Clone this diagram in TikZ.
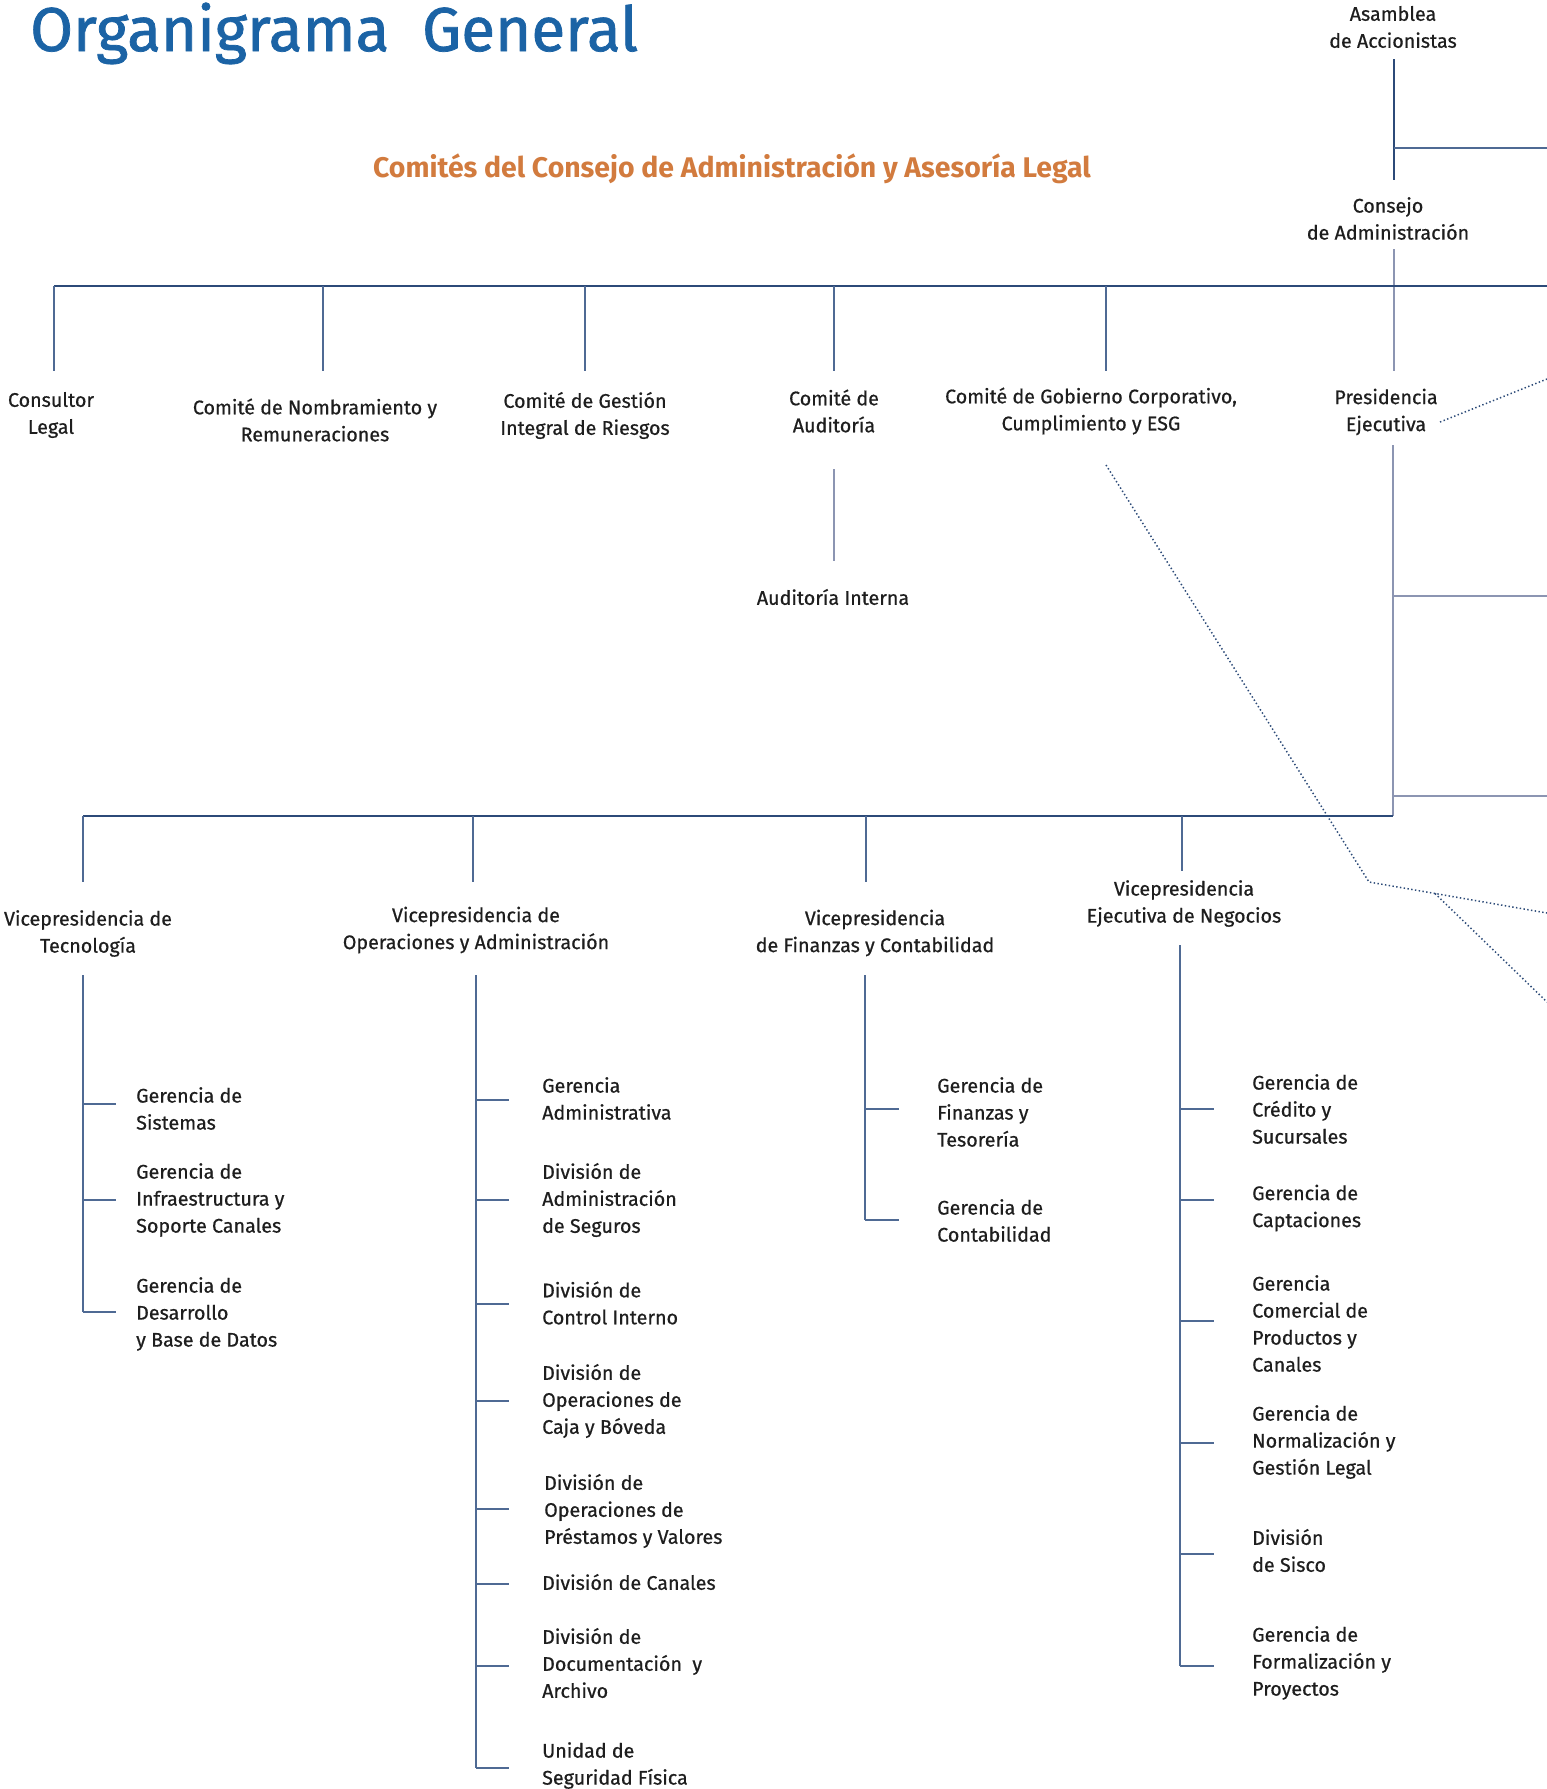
\documentclass[tikz,border=0pt]{standalone}
\usepackage{fontspec}
\setmainfont{Fira Sans}
\newfontfamily\lblfont{Fira Sans}[FakeBold=0.6]
\newfontfamily\ttlfont{Fira Sans}[FakeBold=1.2]
\definecolor{navy}{HTML}{2C4A78}
\definecolor{trunk}{HTML}{4F6A94}
\definecolor{pale}{HTML}{8C95B2}
\definecolor{ttlblue}{HTML}{1B63A5}
\definecolor{orng}{HTML}{D27B3E}
\definecolor{txt}{HTML}{1E1E1E}
\tikzset{
  lbl/.style={font=\lblfont\fontsize{19.7}{27}\selectfont, text=txt, align=center, inner sep=0pt},
  lbll/.style={lbl, align=left, anchor=west},
  mainln/.style={draw=navy, line width=2.4pt},
  subln/.style={draw=trunk, line width=1.4pt},
  paleln/.style={draw=pale, line width=1.6pt},
  dotln/.style={draw=navy, line width=1.5pt, dash pattern=on 1.4pt off 2.4pt}
}
\begin{document}
\begin{tikzpicture}[x=1pt,y=-1pt]
\fill[white] (0,0) rectangle (1547,1789);
\useasboundingbox (0,0) rectangle (1547,1789);

% titles
\node[anchor=base west, inner sep=0pt, font=\ttlfont\fontsize{62}{62}\selectfont, text=ttlblue] (title) at (30,51) {Organigrama\ \ General};
\node[inner sep=0pt, font=\bfseries\fontsize{28.4}{28.4}\selectfont, text=orng] (comites) at (732,169) {Comités del Consejo de Administración y Asesoría Legal};

% top level
\node[lbl] (asam) at (1393,27) {Asamblea\\de Accionistas};
\node[lbl] (cons) at (1388,218.5) {Consejo\\de Administración};
\node[lbl] (cleg) at (51,415) {Consultor\\Legal};
\node[lbl] (cnom) at (315,420) {Comité de Nombramiento y\\Remuneraciones};
\node[lbl] (cges) at (585,415.5) {Comité de Gestión\\Integral de Riesgos};
\node[lbl] (caud) at (834,411) {Comité de\\Auditoría};
\node[lbl] (cgob) at (1091,411) {Comité de Gobierno Corporativo,\\Cumplimiento y ESG};
\node[lbl] (pres) at (1386,412) {Presidencia\\Ejecutiva};
\node[lbl] (aint) at (833,597) {Auditoría Interna};

% vice presidencies
\node[lbl] (vtec) at (88,933.5) {Vicepresidencia de\\Tecnología};
\node[lbl] (vope) at (476,930) {Vicepresidencia de\\Operaciones y Administración};
\node[lbl] (vfin) at (875,933) {Vicepresidencia\\de Finanzas y Contabilidad};
\node[lbl] (vneg) at (1184,903.5) {Vicepresidencia\\Ejecutiva de Negocios};

% Tecnologia children
\node[lbll] (gsis) at (136,1108.5) {Gerencia de\\Sistemas};
\node[lbll] (ginf) at (136,1200) {Gerencia de\\Infraestructura y\\Soporte Canales};
\node[lbll] (gdes) at (136,1314) {Gerencia de\\Desarrollo\\y Base de Datos};

% Operaciones children
\node[lbll] (gadm) at (542,1098.5) {Gerencia\\Administrativa};
\node[lbll] (dseg) at (542,1200) {División de\\Administración\\de Seguros};
\node[lbll] (dcon) at (542,1303) {División de\\Control Interno};
\node[lbll] (dcaj) at (542,1401) {División de\\Operaciones de\\Caja y Bóveda};
\node[lbll] (dpre) at (544,1511) {División de\\Operaciones de\\Préstamos y Valores};
\node[lbll] (dcan) at (542,1582) {División de Canales};
\node[lbll] (ddoc) at (542,1663) {División de\\Documentación\ \ y\\Archivo};
\node[lbll] (useg) at (542,1765.5) {Unidad de\\Seguridad Física};

% Finanzas children
\node[lbll] (gfin) at (937,1112) {Gerencia de\\Finanzas y\\Tesorería};
\node[lbll] (gcon) at (937,1220.5) {Gerencia de\\Contabilidad};

% Negocios children
\node[lbll] (gcre) at (1252,1109) {Gerencia de\\Crédito y\\Sucursales};
\node[lbll] (gcap) at (1252,1208) {Gerencia de\\Captaciones};
\node[lbll] (gcom) at (1252,1323.5) {Gerencia\\Comercial de\\Productos y\\Canales};
\node[lbll] (gnor) at (1252,1442) {Gerencia de\\Normalización y\\Gestión Legal};
\node[lbll] (dsis) at (1252,1550.5) {División\\de Sisco};
\node[lbll] (gfor) at (1252,1663) {Gerencia de\\Formalización y\\Proyectos};

% ---------- connector coordinates ----------
\coordinate (asamS) at (1394,59);
\coordinate (consN) at (1394,180);
\coordinate (asamJ) at (1394,148);
\coordinate (asamE) at (1547,148);
\coordinate (consS) at (1394,249);
\coordinate (presN) at (1394,371);
\coordinate (busL) at (54,286);
\coordinate (busR) at (1547,286);
\coordinate (clegN) at (54,371);
\coordinate (cnomN) at (323,371);
\coordinate (cgesN) at (585,371);
\coordinate (caudN) at (834,371);
\coordinate (cgobN) at (1106,371);
\coordinate (caudS) at (834,469);
\coordinate (aintN) at (834,561);
\coordinate (presS) at (1393,445);
\coordinate (presB) at (1393,816);
\coordinate (presJ1) at (1393,596);
\coordinate (presE1) at (1547,596);
\coordinate (presJ2) at (1393,796);
\coordinate (presE2) at (1547,796);
\coordinate (vbusL) at (83,816);
\coordinate (vtecN) at (83,882);
\coordinate (vopeN) at (473,882);
\coordinate (vfinN) at (866,882);
\coordinate (vnegN) at (1182,871);
% dotted
\coordinate (presD) at (1440,422);
\coordinate (presDE) at (1547,379);
\coordinate (cgobD) at (1106,465);
\coordinate (dk1) at (1369,882);
\coordinate (dkE1) at (1547,913);
\coordinate (dk2) at (1435,893.5);
\coordinate (dkE2) at (1547,1002);

% ---------- connectors ----------
\draw[mainln] (asamS) -- (consN);
\draw[subln] (asamJ) -- (asamE);
\draw[paleln] (consS) -- (presN);
\draw[mainln, line width=2pt] (busL) -- (busR);
\foreach \c in {clegN,cnomN,cgesN,caudN,cgobN}
  \draw[subln] (busL -| \c) -- (\c);
\draw[paleln, line width=1.2pt] (caudS) -- (aintN);
\draw[paleln, line width=2pt] (presS) -- (presB);
\draw[paleln, line width=2pt] (presJ1) -- (presE1);
\draw[paleln, line width=2pt] (presJ2) -- (presE2);
\draw[mainln] (vbusL) -- (presB);
\foreach \c in {vtecN,vopeN,vfinN,vnegN}
  \draw[subln] (vbusL -| \c) -- (\c);

\draw[dotln] (presD) -- (presDE);
\draw[dotln] (cgobD) -- (dk1) -- (dkE1);
\draw[dotln] (dk2) -- (dkE2);

% sub trunks
\coordinate (tecT) at (83,975);
\coordinate (tecB) at (83,1312);
\draw[subln] (tecT) -- (tecB);
\foreach \y [count=\i] in {1104,1200,1312} {
  \coordinate (tec\i) at (83,\y);
  \draw[subln] (tec\i) -- ++(33,0);
}
\coordinate (opeT) at (476,975);
\coordinate (opeB) at (476,1768);
\draw[subln] (opeT) -- (opeB);
\foreach \y [count=\i] in {1100,1200,1304,1401,1509,1584,1666,1768} {
  \coordinate (ope\i) at (476,\y);
  \draw[subln] (ope\i) -- ++(33,0);
}
\coordinate (finT) at (865,975);
\coordinate (finB) at (865,1220);
\draw[subln] (finT) -- (finB);
\foreach \y [count=\i] in {1109,1220} {
  \coordinate (fin\i) at (865,\y);
  \draw[subln] (fin\i) -- ++(34,0);
}
\coordinate (negT) at (1180,945);
\coordinate (negB) at (1180,1666);
\draw[subln] (negT) -- (negB);
\foreach \y [count=\i] in {1109,1200,1321,1443,1554,1666} {
  \coordinate (neg\i) at (1180,\y);
  \draw[subln] (neg\i) -- ++(34,0);
}
\end{tikzpicture}
\end{document}
